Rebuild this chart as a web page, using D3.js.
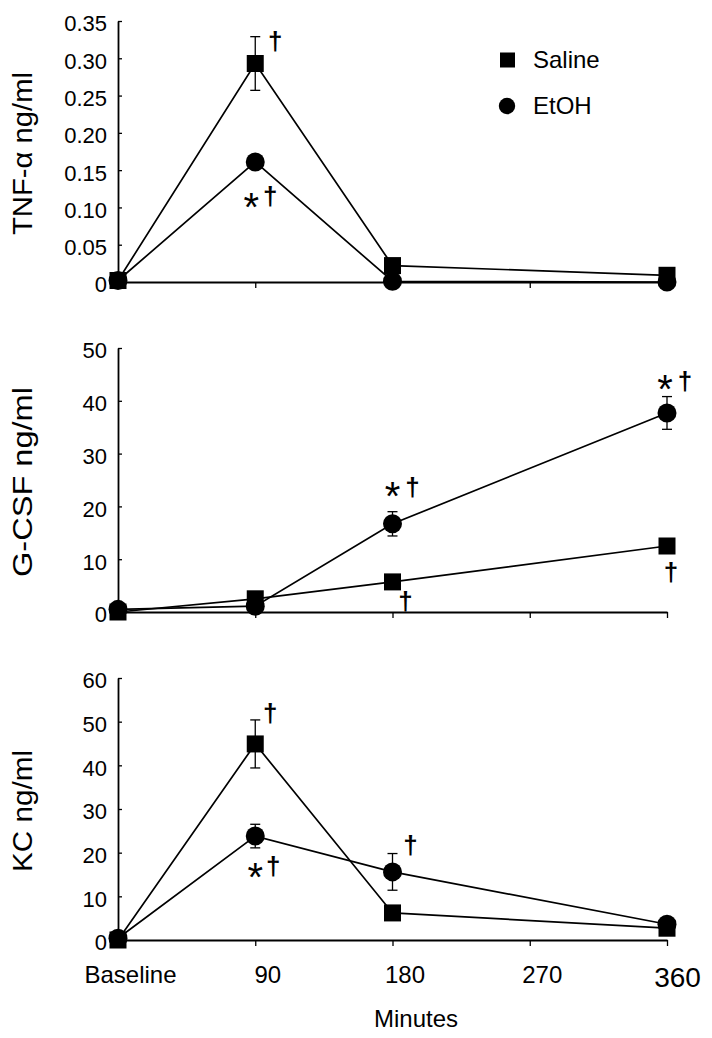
<!DOCTYPE html>
<html><head><meta charset="utf-8">
<script src="https://cdn.jsdelivr.net/npm/d3@7"></script>
<style>body{margin:0;background:#fff}svg{display:block}text{font-family:"Liberation Sans",Arial,sans-serif;fill:#000}</style>
</head><body>
<svg id="c" width="712" height="1038"></svg>
<script>
// ---- data ----
const times = [0, 90, 180, 270, 360];
const timeLabels = ["Baseline", "90", "180", "270", "360"];
const dataTimes = [0, 90, 180, 360];

const tnfSaline = [0.002, 0.293, 0.022, 0.009];
const tnfSalineErr = [0, 0.036, 0, 0];
const tnfEtoh = [0.002, 0.161, 0.001, 0.0];
const tnfEtohErr = [0, 0.004, 0, 0];
const tnfTicks = [0, 0.05, 0.10, 0.15, 0.20, 0.25, 0.30, 0.35];
const tnfTickLabels = ["0", "0.05", "0.10", "0.15", "0.20", "0.25", "0.30", "0.35"];

const gcsfSaline = [0, 2.5, 5.7, 12.5];
const gcsfSalineErr = [0, 0, 0, 0];
const gcsfEtoh = [0.5, 1.1, 16.7, 37.7];
const gcsfEtohErr = [0, 0, 2.3, 3.1];
const gcsfTicks = [0, 10, 20, 30, 40, 50];
const gcsfTickLabels = ["0", "10", "20", "30", "40", "50"];

const kcSaline = [0, 44.9, 6.2, 2.7];
const kcSalineErr = [0, 5.5, 0, 0];
const kcEtoh = [0.4, 23.8, 15.6, 3.6];
const kcEtohErr = [0, 2.7, 4.2, 0];
const kcTicks = [0, 10, 20, 30, 40, 50, 60];
const kcTickLabels = ["0", "10", "20", "30", "40", "50", "60"];

const seriesNames = ["Saline", "EtOH"];

// annotations: [time, series index, text, dx, dy]
const tnfNotes = [[90, 0, "†", 20, -22], [90, 1, "*", -4, 36], [90, 1, "†", 15, 35]];
const gcsfNotes = [[180, 1, "*", 0, -37], [180, 1, "†", 20, -36], [360, 1, "*", -2, -33], [360, 1, "†", 18, -31],
                   [180, 0, "†", 13, 20], [360, 0, "†", 4, 27]];
const kcNotes = [[90, 0, "†", 15, -30], [90, 1, "*", 0, 32], [90, 1, "†", 18, 31], [180, 1, "†", 18, -26]];

// ---- drawing ----
const svg = d3.select("#c");
const x = d3.scaleLinear().domain([0, 360]).range([118, 667]);

const panels = [
  {label: "TNF-α ng/ml", labelLen: 163, domain: [0, 0.35], range: [282, 21], ticks: tnfTicks, tickLabels: tnfTickLabels,
   s: [tnfSaline, tnfEtoh], e: [tnfSalineErr, tnfEtohErr], notes: tnfNotes, xLabels: false},
  {label: "G-CSF ng/ml", labelLen: 190, domain: [0, 50], range: [612, 348], ticks: gcsfTicks, tickLabels: gcsfTickLabels,
   s: [gcsfSaline, gcsfEtoh], e: [gcsfSalineErr, gcsfEtohErr], notes: gcsfNotes, xLabels: false},
  {label: "KC ng/ml", labelLen: 122, domain: [0, 60], range: [940, 678], ticks: kcTicks, tickLabels: kcTickLabels,
   s: [kcSaline, kcEtoh], e: [kcSalineErr, kcEtohErr], notes: kcNotes, xLabels: true}
];

panels.forEach(p => {
  const y = d3.scaleLinear().domain(p.domain).range(p.range);
  const g = svg.append("g");

  // x axis
  const xa = d3.axisBottom(x).tickValues(times).tickSizeInner(6).tickSizeOuter(0)
    .tickFormat((d, i) => p.xLabels ? timeLabels[i] : "");
  const gx = g.append("g").attr("transform", `translate(0,${p.range[0]})`).call(xa);
  gx.select(".domain").attr("stroke-width", 1.8);
  gx.selectAll(".tick line").attr("stroke-width", 1.3);
  gx.selectAll("text").attr("dy", 0).attr("y", 43).attr("dx", 12)
    .style("font-size", "24px").style("font-family", "Liberation Sans, Arial, sans-serif").attr("fill", "#000");
  gx.selectAll("text").filter(d => d === 360).style("font-size", "28px").attr("y", 47).attr("dx", 10);

  // y axis
  const ya = d3.axisLeft(y).tickValues(p.ticks).tickSizeInner(-4).tickSizeOuter(0).tickPadding(11)
    .tickFormat((d, i) => p.tickLabels[i]);
  const gy = g.append("g").attr("transform", `translate(118,0)`).call(ya);
  gy.select(".domain").attr("stroke-width", 1.8);
  gy.selectAll(".tick line").attr("stroke-width", 1.3);
  gy.selectAll("text").style("font-size", "22px").style("font-family", "Liberation Sans, Arial, sans-serif")
    .attr("fill", "#000").attr("dy", "0.45em");

  // y label
  const cy = (p.range[0] + p.range[1]) / 2 + 2;
  g.append("text").attr("transform", `translate(32,${cy}) rotate(-90)`).attr("text-anchor", "middle")
    .attr("textLength", p.labelLen).attr("lengthAdjust", "spacingAndGlyphs")
    .style("font-size", "27px").text(p.label);

  // lines
  const line = d3.line().x((d, i) => x(dataTimes[i])).y(d => y(d));
  p.s.forEach(vals => {
    g.append("path").attr("d", line(vals)).attr("fill", "none").attr("stroke", "#000").attr("stroke-width", 1.7);
  });

  // error bars
  p.s.forEach((vals, si) => {
    vals.forEach((v, i) => {
      const e = p.e[si][i];
      if (!e) return;
      const cx = x(dataTimes[i]);
      g.append("line").attr("x1", cx).attr("x2", cx).attr("y1", y(v - e)).attr("y2", y(v + e)).attr("stroke", "#000").attr("stroke-width", 1.3);
      [v - e, v + e].forEach(w => g.append("line").attr("x1", cx - 5).attr("x2", cx + 5).attr("y1", y(w)).attr("y2", y(w)).attr("stroke", "#000").attr("stroke-width", 1.3));
    });
  });

  // markers: EtOH circles then Saline squares
  g.selectAll(".circ").data(p.s[1]).join("circle").attr("cx", (d, i) => x(dataTimes[i])).attr("cy", d => y(d)).attr("r", 9.5).attr("fill", "#000");
  g.selectAll(".sq").data(p.s[0]).join("rect").attr("x", (d, i) => x(dataTimes[i]) - 8.5).attr("y", d => y(d) - 8.5)
    .attr("width", 17).attr("height", 17).attr("fill", "#000");

  // annotations
  p.notes.forEach(n => {
    const idx = dataTimes.indexOf(n[0]);
    const px = x(n[0]) + n[3];
    const py = y(p.s[n[1]][idx]) + n[4];
    if (n[2] === "*") {
      g.append("text").attr("x", px).attr("y", py + 23).attr("text-anchor", "middle").style("font-size", "40px").text("*");
    } else {
      g.append("text").attr("x", px).attr("y", py + 8).attr("text-anchor", "middle").style("font-size", "26px").style("font-weight", "bold").text(n[2]);
    }
  });
});

// legend
const leg = svg.append("g");
leg.append("rect").attr("x", 500).attr("y", 52.5).attr("width", 15).attr("height", 15).attr("fill", "#000");
leg.append("circle").attr("cx", 507).attr("cy", 106).attr("r", 8.2).attr("fill", "#000");
leg.append("text").attr("x", 533).attr("y", 68).style("font-size", "24px").text(seriesNames[0]);
leg.append("text").attr("x", 533).attr("y", 114).style("font-size", "24px").text(seriesNames[1]);

// x title
svg.append("text").attr("x", 416).attr("y", 1027).attr("text-anchor", "middle").style("font-size", "24px").text("Minutes");
</script>
</body></html>
